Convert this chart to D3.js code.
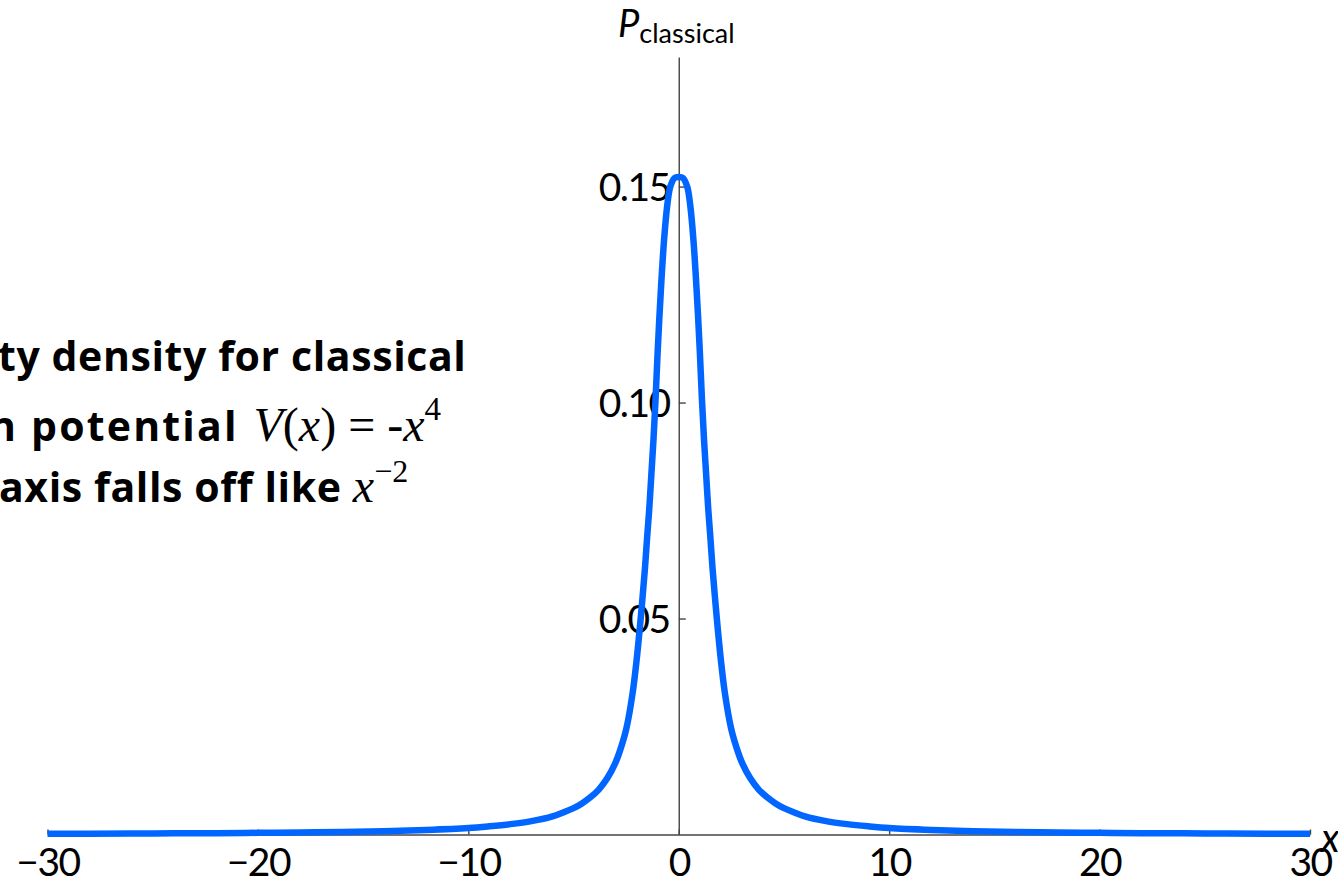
<!DOCTYPE html>
<html>
<head>
<meta charset="utf-8">
<script src="https://cdn.jsdelivr.net/npm/d3@7"></script>
<style>
  html, body { margin: 0; padding: 0; background: #fff; overflow: hidden; }
  svg { display: block; }
</style>
</head>
<body>
<div id="chart"></div>
<script>
// curve samples, right half (the curve is symmetric about x = 0)
const xsRight = [0, 0.2, 0.4, 0.55, 0.7, 0.85, 1.0, 1.1, 1.2, 1.3, 1.4, 1.5, 1.6, 1.8, 2.0, 2.2, 2.5, 2.8, 3.0, 3.4, 3.8, 4.2, 4.6, 5.0, 5.5, 6, 7, 8, 9, 10, 12, 14, 16, 18, 20, 22, 25, 28, 30];
const psRight = [0.1522, 0.1520, 0.1500, 0.1455, 0.1375, 0.1260, 0.1120, 0.1010, 0.0915, 0.0835, 0.0755, 0.0690, 0.0620, 0.0505, 0.0405, 0.0325, 0.0243, 0.0193, 0.0167, 0.0130, 0.0104, 0.0086, 0.0072, 0.0061, 0.0051, 0.0042, 0.0031, 0.0024, 0.0019, 0.0015, 0.00106, 0.00078, 0.0006, 0.00047, 0.00038, 0.00031, 0.00024, 0.00019, 0.00017];

const xMajor = [-30, -20, -10, 0, 10, 20, 30];
const xMinor = [-28, -26, -24, -22, -18, -16, -14, -12, -8, -6, -4, -2, 2, 4, 6, 8, 12, 14, 16, 18, 22, 24, 26, 28];
const yMajor = [0.05, 0.10, 0.15];
const yMinor = [0.01, 0.02, 0.03, 0.04, 0.06, 0.07, 0.08, 0.09, 0.11, 0.12, 0.13, 0.14, 0.16, 0.17];

const W = 1338, H = 883;
const tickFont = "Lato, 'Open Sans', sans-serif";

const svg = d3.select("#chart").append("svg")
    .attr("width", W)
    .attr("height", H);

const x = d3.scaleLinear().domain([-30, 30]).range([47.5, 1310]);
const y = d3.scaleLinear().domain([0, 0.18]).range([834.5, 57]);

// x axis, ticks pointing up
const gx = svg.append("g").attr("transform", `translate(0,${y(0)})`);
gx.call(d3.axisBottom(x).tickValues(xMinor).tickSize(-3).tickFormat(""));
gx.call(d3.axisBottom(x).tickValues(xMajor).tickSize(-5).tickSizeOuter(0).tickPadding(0));
gx.selectAll("text")
    .attr("y", 41)
    .attr("dy", null)
    .style("font-family", tickFont)
    .style("font-size", "39px")
    .style("letter-spacing", "-1.5px")
    .attr("fill", "#000");

// y axis, ticks pointing right
const gy = svg.append("g").attr("transform", `translate(${x(0)},0)`);
gy.call(d3.axisLeft(y).tickValues(yMinor).tickSize(-4).tickFormat(""));
gy.call(d3.axisLeft(y).tickValues(yMajor).tickSize(-7).tickSizeOuter(0).tickPadding(9).tickFormat(d3.format(".2f")));
gy.selectAll("text")
    .attr("dy", "0.36em")
    .style("font-family", tickFont)
    .style("font-size", "39px")
    .style("letter-spacing", "-1.5px")
    .attr("fill", "#000");

svg.selectAll(".domain, .tick line")
    .attr("stroke", "#444")
    .attr("stroke-width", 1.4);

// curve: left half mirrors the right half
const pts = xsRight.slice(1).reverse().map((v, i, a) => [-v, psRight[a.length - i]])
    .concat(xsRight.map((v, i) => [v, psRight[i]]));
svg.append("path")
    .datum(pts)
    .attr("fill", "none")
    .attr("stroke", "#0066ff")
    .attr("stroke-width", 6.5)
    .attr("stroke-linejoin", "round")
    .attr("d", d3.line().x(d => x(d[0])).y(d => y(d[1])).curve(d3.curveCatmullRom.alpha(0.5)));

// axis labels
const yl = svg.append("text")
    .attr("x", 618)
    .attr("y", 37)
    .style("font-family", tickFont)
    .attr("fill", "#000");
yl.append("tspan").text("P").style("font-style", "italic").style("font-size", "38px");
yl.append("tspan").text("classical").attr("dy", 6).style("font-size", "27px");

svg.append("text")
    .attr("x", 1321)
    .attr("y", 852)
    .text("x")
    .style("font-family", tickFont)
    .style("font-style", "italic")
    .style("font-size", "40px")
    .attr("fill", "#000");

// annotation text on the left
const textFont = "'Open Sans', sans-serif";
const mathFont = "'Liberation Serif', 'DejaVu Serif', serif";

function bold(sel) {
    return sel.style("font-family", textFont).style("font-weight", "bold")
        .style("font-size", "41px").style("letter-spacing", "0.6px").attr("fill", "#000");
}
function math(tspan, italic) {
    return tspan.style("font-family", mathFont).style("font-style", italic ? "italic" : "normal")
        .style("font-weight", "normal").style("font-size", "48px").style("letter-spacing", "0px");
}

const t1 = bold(svg.append("text").attr("x", -2).attr("y", 371));
t1.append("tspan").text("ty density for classical");

const t2 = bold(svg.append("text").attr("x", -11).attr("y", 441));
t2.append("tspan").text("n potential ").style("letter-spacing", "2.2px");
math(t2.append("tspan").text("V").attr("dx", 2), true);
math(t2.append("tspan").text("("), false);
math(t2.append("tspan").text("x"), true);
math(t2.append("tspan").text(") = -"), false);
math(t2.append("tspan").text("x"), true);
math(t2.append("tspan").text("4").attr("dy", -21), false).style("font-size", "33px");

const t3 = bold(svg.append("text").attr("x", -1).attr("y", 502));
t3.append("tspan").text("axis falls off like ");
math(t3.append("tspan").text("x"), true);
math(t3.append("tspan").text("\u22122").attr("dy", -20), false).style("font-size", "32px");
</script>
</body>
</html>
